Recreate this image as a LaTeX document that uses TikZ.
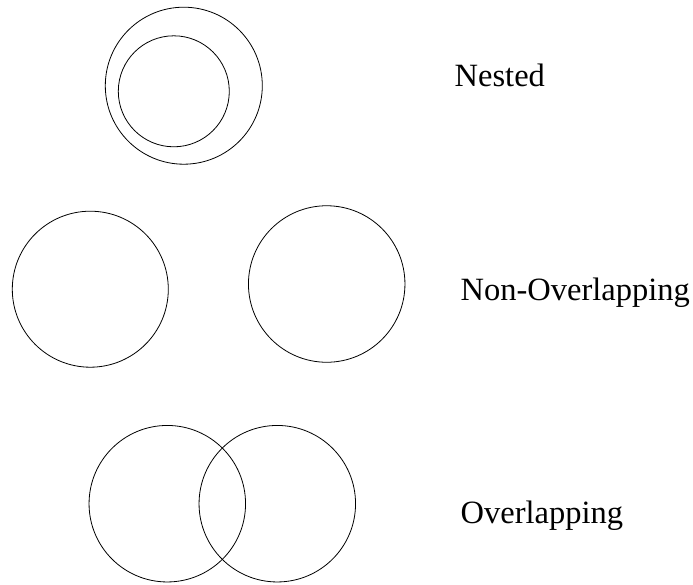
\documentclass[tikz,border=0pt]{standalone}
\usepackage{fontspec}
\setmainfont{Liberation Serif}
\begin{document}
\begin{tikzpicture}[x=1pt,y=-1pt,
  ring/.style={draw=black,line width=0.8pt,circle,inner sep=0pt,minimum size=#1},
  lab/.style={anchor=base west,inner sep=0pt,font=\fontsize{32.5}{39}\selectfont}]
\useasboundingbox (0,0) rectangle (693,584);
% Nested
\node[ring=157pt] (nout) at (183.8,85.7) {};
\node[ring=111pt] (nin) at (173.8,91.3) {};
\node[lab] (tnest) at (454.5,86) {Nested};
% Non-overlapping
\node[ring=156pt] (na) at (90.3,289.2) {};
\node[ring=156.5pt] (nb) at (326.7,284) {};
\node[lab] (tnon) at (460.5,300.7) {Non-Overlapping};
% Overlapping
\node[ring=156.5pt] (oa) at (167.3,503.7) {};
\node[ring=156.5pt] (ob) at (277.3,503.7) {};
\node[lab] (tover) at (460.5,523.8) {Overlapping};
\end{tikzpicture}
\end{document}
